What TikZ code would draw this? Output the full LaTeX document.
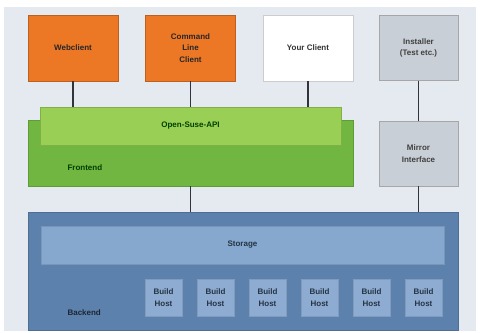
\documentclass[tikz,border=0pt]{standalone}
\usepackage{fontspec}
\setmainfont{Liberation Sans}
\usepackage{xcolor}
\usepackage{tikz}
\usetikzlibrary{calc,positioning}
\definecolor{obspanel}{RGB}{229,234,241}
\definecolor{obsorange}{RGB}{236,120,38}
\definecolor{obsapi}{RGB}{153,207,84}
\definecolor{obsfront}{RGB}{112,182,64}
\definecolor{obsgray}{RGB}{201,207,214}
\definecolor{obsback}{RGB}{92,129,172}
\definecolor{obsstore}{RGB}{134,167,206}
\definecolor{obshost}{RGB}{142,172,210}
\definecolor{obsline}{RGB}{50,52,58}

\begin{document}
\begin{tikzpicture}[x=1pt,y=-1pt,
    font=\fontsize{8}{11.5}\selectfont\bfseries,
    box/.style={draw,inner sep=1pt,align=center,minimum width=#1},
    client/.style={box=90pt,minimum height=66pt,fill=obsorange,draw=obsorange!80!black,text=black!85},
    tool/.style={box=79pt,minimum height=65pt,fill=obsgray,draw=gray!70,text=black!75},
    hostbox/.style={box=37pt,minimum height=37pt,fill=obshost,draw=obshost!90!black,text=obsback!40!black},
    link/.style={obsline,line width=1.8pt}]
    % background
    \fill[white] (0,0) rectangle (481,332);
    \fill[obspanel] (4,7) rectangle (476,331);
    % clients
    \node[client] (web) at (73,48) {Webclient};
    \node[client] (cli) at (190.5,48) {Command\\Line\\Client};
    \node[box=90pt,minimum height=66pt,fill=white,draw=gray!40,text=black!80] (your) at (308,48) {Your Client};
    \node[tool] (inst) at (418.5,48) {Installer\\(Test etc.)};
    % frontend
    \node[box=325pt,minimum height=66pt,fill=obsfront,draw=obsfront!85!black] (front) at (190.5,153) {};
    \node[text=green!25!black,anchor=west] (frontlbl) at (64,168) {Frontend};
    \node[box=301pt,minimum height=38pt,fill=obsapi,draw=obsapi!85!black,text=green!25!black] (api) at (190.5,126) {Open-Suse-API};
    \node[tool] (mirror) at (418.5,153.5) {Mirror\\Interface};
    % backend
    \node[box=430pt,minimum height=118pt,fill=obsback,draw=obsback!85!black] (back) at (243,271) {};
    \node[box=403pt,minimum height=38pt,fill=obsstore,draw=obsstore!90!black,text=obsback!40!black] (store) at (242.5,245) {Storage};
    \node[text=obsback!30!black,anchor=west] (backlbl) at (64,313) {Backend};
    \foreach \i in {0,...,5}
       \node[hostbox] (host\i) at ({163.5+52*\i},297.5) {Build\\Host};
    % connectors
    \draw[link] (web.south) -- (web.south |- api.north);
    \draw[link] (cli.south) -- (cli.south |- api.north);
    \draw[link] (your.south) -- (your.south |- api.north);
    \draw[link] (inst.south) -- (mirror.north);
    \draw[link] (front.south) -- (front.south |- back.north);
    \draw[link] (mirror.south) -- (mirror.south |- back.north);
\end{tikzpicture}
\end{document}
